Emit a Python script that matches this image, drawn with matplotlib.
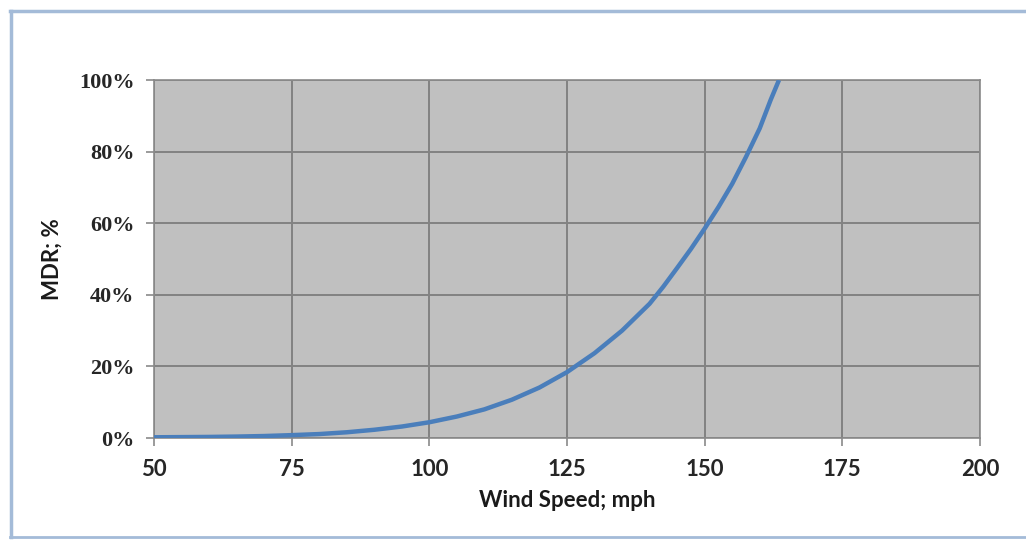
import numpy as np
import matplotlib.pyplot as plt
from matplotlib.lines import Line2D
from matplotlib.ticker import FuncFormatter

# mean damage ratio vs wind speed
wind_speed = [50, 55, 60, 65, 70, 75, 80, 85, 90, 95, 100, 105, 110, 115,
              120, 125, 130, 135, 140, 142.5, 145, 147.5, 150, 152.5, 155,
              157.5, 160, 162, 163.5]
mdr_pct = [0.2, 0.25, 0.3, 0.4, 0.55, 0.8, 1.1, 1.6, 2.3, 3.2, 4.4, 6.0, 8.0,
           10.7, 14.1, 18.4, 23.7, 30.0, 37.5, 42.3, 47.5, 52.8, 58.5, 64.5,
           71.0, 78.5, 86.5, 94.5, 100.0]

x_ticks = [50, 75, 100, 125, 150, 175, 200]
y_ticks = [0, 20, 40, 60, 80, 100]

fig = plt.figure(figsize=(10.26, 5.42), dpi=100)
ax = fig.add_axes([154 / 1026, 1 - 438 / 542, 826 / 1026, 358 / 542])

ax.set_facecolor('#c0c0c0')
ax.plot(wind_speed, mdr_pct, color='#4a7ebb', lw=3.2, solid_capstyle='butt',
        solid_joinstyle='round', zorder=3)

ax.set_xlim(50, 200)
ax.set_ylim(0, 100)
ax.set_xticks(x_ticks)
ax.set_yticks(y_ticks)
ax.yaxis.set_major_formatter(FuncFormatter(lambda v, p: f'{v:.0f}%'))
ax.grid(True, color='#828282', lw=1.4)
ax.set_axisbelow(True)

for s in ax.spines.values():
    s.set_color('#8a8a8a')
    s.set_linewidth(1.2)

ax.tick_params(axis='both', direction='out', length=6, width=1.2, color='#8a8a8a')
ax.tick_params(axis='x', pad=9)
ax.tick_params(axis='y', pad=8)
for lbl in ax.get_xticklabels():
    lbl.set_fontfamily('Lato')
    lbl.set_fontweight('bold')
    lbl.set_fontsize(16)
    lbl.set_color('#262626')
for lbl in ax.get_yticklabels():
    lbl.set_fontfamily('Liberation Serif')
    lbl.set_fontweight('bold')
    lbl.set_fontsize(16)
    lbl.set_color('#262626')

ax.set_xlabel('Wind Speed; mph', fontfamily='Lato', fontweight='bold',
              fontsize=16, color='#1a1a1a', labelpad=7)
ax.set_ylabel('MDR; %', fontfamily='Lato', fontweight='bold',
              fontsize=16, color='#1a1a1a', labelpad=12)

# window frame around the chart
frame = '#a4bbd8'
W, H = 1026, 542
fig.add_artist(Line2D([10 / W, 1], [1 - 11 / H, 1 - 11 / H], color=frame, lw=2.5))
fig.add_artist(Line2D([11 / W, 11 / W], [1 - 537 / H, 1 - 11 / H], color=frame, lw=2.5))
fig.add_artist(Line2D([10 / W, 1], [1 - 537 / H, 1 - 537 / H], color=frame, lw=2.0))

fig.savefig('out.png', dpi=100)
